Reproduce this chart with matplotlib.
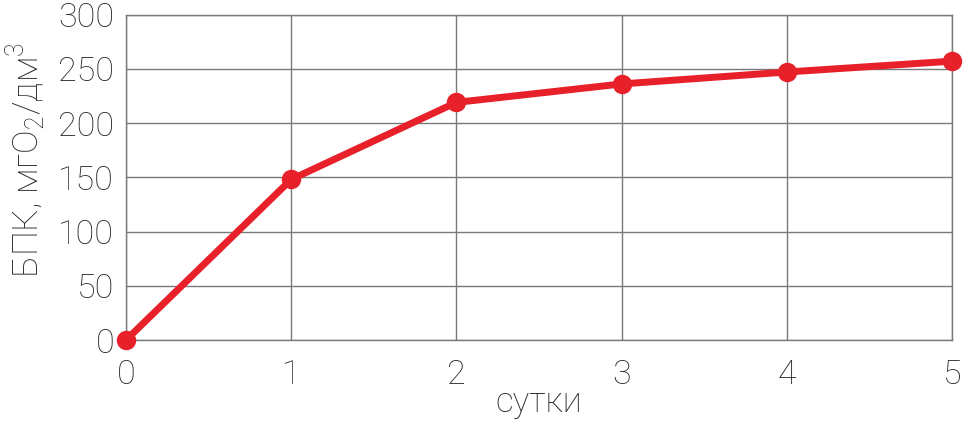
import numpy as np
import matplotlib.pyplot as plt

# BOD curve over days
days = [0, 1, 2, 3, 4, 5]
bod = [0, 148, 219, 236, 247, 257]
y_ticks = [0, 50, 100, 150, 200, 250, 300]

plt.rcParams['font.family'] = ['Roboto', 'DejaVu Sans']
plt.rcParams['mathtext.fontset'] = 'custom'
plt.rcParams['mathtext.rm'] = 'Roboto:light'

fig = plt.figure(figsize=(9.7, 4.24), dpi=100)
ax = fig.add_axes([0.1299, 0.198, 0.9814 - 0.1299, 0.9658 - 0.198])

ax.plot(days, bod, color='#e8202a', lw=5, marker='o', ms=13,
        solid_capstyle='round', clip_on=False, zorder=3)

ax.set_xlim(0, 5)
ax.set_ylim(0, 300)
ax.set_xticks(days)
ax.set_yticks(y_ticks)
ax.grid(True, color='#7a7a7a', lw=1.0)
for s in ax.spines.values():
    s.set_color('#7a7a7a')
    s.set_linewidth(1.0)
ax.tick_params(length=0, labelsize=24.5, colors='#2a2a2a')
ax.tick_params(axis='x', pad=14)
ax.tick_params(axis='y', pad=8.5)
for lab in ax.get_xticklabels() + ax.get_yticklabels():
    lab.set_fontweight('light')

ax.set_xlabel('сутки', fontsize=25, color='#2a2a2a', fontweight='light', labelpad=-4)
fig.text(4 / 970, 1 - 160 / 424, 'БПК, мгO$_2$/дм$^3$', rotation=90,
         ha='left', va='center', fontsize=25.5, color='#2a2a2a', fontweight='light')

fig.savefig('out.png', dpi=100)
